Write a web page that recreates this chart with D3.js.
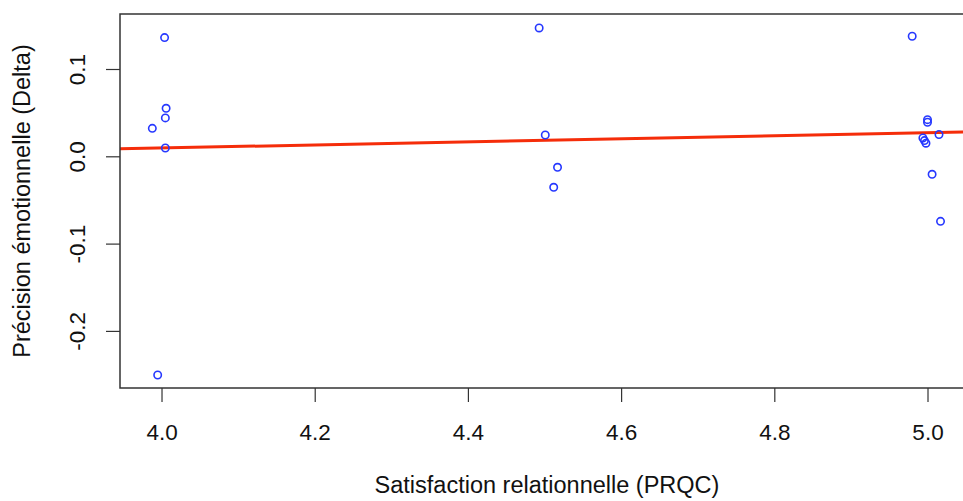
<!DOCTYPE html>
<html>
<head>
<meta charset="utf-8">
<script src="https://cdn.jsdelivr.net/npm/d3@7"></script>
<style>
  body { margin: 0; background: #fff; }
  svg { display: block; font-family: "Liberation Sans", Arial, sans-serif; }
</style>
</head>
<body>
<div id="chart"></div>
<script>
// satisfaction (x, slightly jittered) and emotional precision (y)
var satisfaction = [4.004, 4.006, 4.005, 3.988, 4.005, 3.995,
                    4.493, 4.501, 4.517, 4.512,
                    4.980, 5.000, 5.000, 5.015, 4.994, 4.996, 4.998, 5.006, 5.017];
var precision = [0.136, 0.055, 0.044, 0.032, 0.0095, -0.2505,
                 0.147, 0.0244, -0.0126, -0.0355,
                 0.1375, 0.042, 0.039, 0.025, 0.021, 0.018, 0.015, -0.0206, -0.0745];
var xTicks = [4.0, 4.2, 4.4, 4.6, 4.8, 5.0];
var yTicks = [-0.2, -0.1, 0.0, 0.1];
// fitted line (abline)
var fitIntercept = -0.0603;
var fitSlope = 0.01746;

var W = 963, H = 501;
var margin = { top: 14, left: 120 };
var plotW = 854, plotH = 374;

var svg = d3.select("#chart").append("svg")
    .attr("width", W).attr("height", H);

var x = d3.scaleLinear().domain([3.9458, 5.0607]).range([margin.left, margin.left + plotW]);
var y = d3.scaleLinear().domain([-0.2654, 0.163]).range([margin.top + plotH, margin.top]);

// R prints a plain hyphen for negatives
var fmt = function (d) { return d3.format(".1f")(d).replace("\u2212", "-"); };

svg.append("defs").append("clipPath").attr("id", "plotclip")
    .append("rect")
    .attr("x", margin.left).attr("y", margin.top)
    .attr("width", plotW).attr("height", plotH);

// regression line, clipped to the plot region
var xd = x.domain();
svg.append("line")
    .attr("clip-path", "url(#plotclip)")
    .attr("x1", x(xd[0])).attr("y1", y(fitIntercept + fitSlope * xd[0]))
    .attr("x2", x(xd[1])).attr("y2", y(fitIntercept + fitSlope * xd[1]))
    .attr("stroke", "#f52d0a")
    .attr("stroke-width", 3);

// points
svg.append("g").selectAll("circle")
    .data(satisfaction.map(function (d, i) { return [d, precision[i]]; }))
    .enter().append("circle")
    .attr("cx", function (d) { return x(d[0]); })
    .attr("cy", function (d) { return y(d[1]); })
    .attr("r", 3.7)
    .attr("fill", "none")
    .attr("stroke", "#2638ff")
    .attr("stroke-width", 1.6);

// box
svg.append("rect")
    .attr("x", margin.left).attr("y", margin.top)
    .attr("width", plotW).attr("height", plotH)
    .attr("fill", "none")
    .attr("stroke", "#333")
    .attr("stroke-width", 1.5);

// x axis
var xAxis = svg.append("g")
    .attr("transform", "translate(0," + (margin.top + plotH) + ")")
    .call(d3.axisBottom(x).tickValues(xTicks).tickSize(14).tickPadding(0)
        .tickFormat(fmt));
xAxis.select(".domain").remove();
xAxis.selectAll("line").attr("stroke", "#333").attr("stroke-width", 1.2);
xAxis.selectAll("text")
    .attr("y", 52).attr("dy", null)
    .attr("fill", "#111")
    .style("font-size", "22.5px");

// y axis, labels parallel to the axis
var yAxis = svg.append("g")
    .attr("transform", "translate(" + margin.left + ",0)")
    .call(d3.axisLeft(y).tickValues(yTicks).tickSize(14)
        .tickFormat(fmt));
yAxis.select(".domain").remove();
yAxis.selectAll("line").attr("stroke", "#333").attr("stroke-width", 1.2);
yAxis.selectAll("text")
    .attr("x", null).attr("dy", null)
    .attr("text-anchor", "middle")
    .attr("transform", "translate(-35,0) rotate(-90)")
    .attr("fill", "#111")
    .style("font-size", "22.5px");

// axis titles
svg.append("text")
    .attr("x", margin.left + plotW / 2)
    .attr("y", 493)
    .attr("text-anchor", "middle")
    .attr("fill", "#111")
    .style("font-size", "23.5px")
    .text("Satisfaction relationnelle (PRQC)");

svg.append("text")
    .attr("transform", "translate(30," + (margin.top + plotH / 2) + ") rotate(-90)")
    .attr("text-anchor", "middle")
    .attr("fill", "#111")
    .style("font-size", "23.5px")
    .text("Précision émotionnelle (Delta)");
</script>
</body>
</html>
